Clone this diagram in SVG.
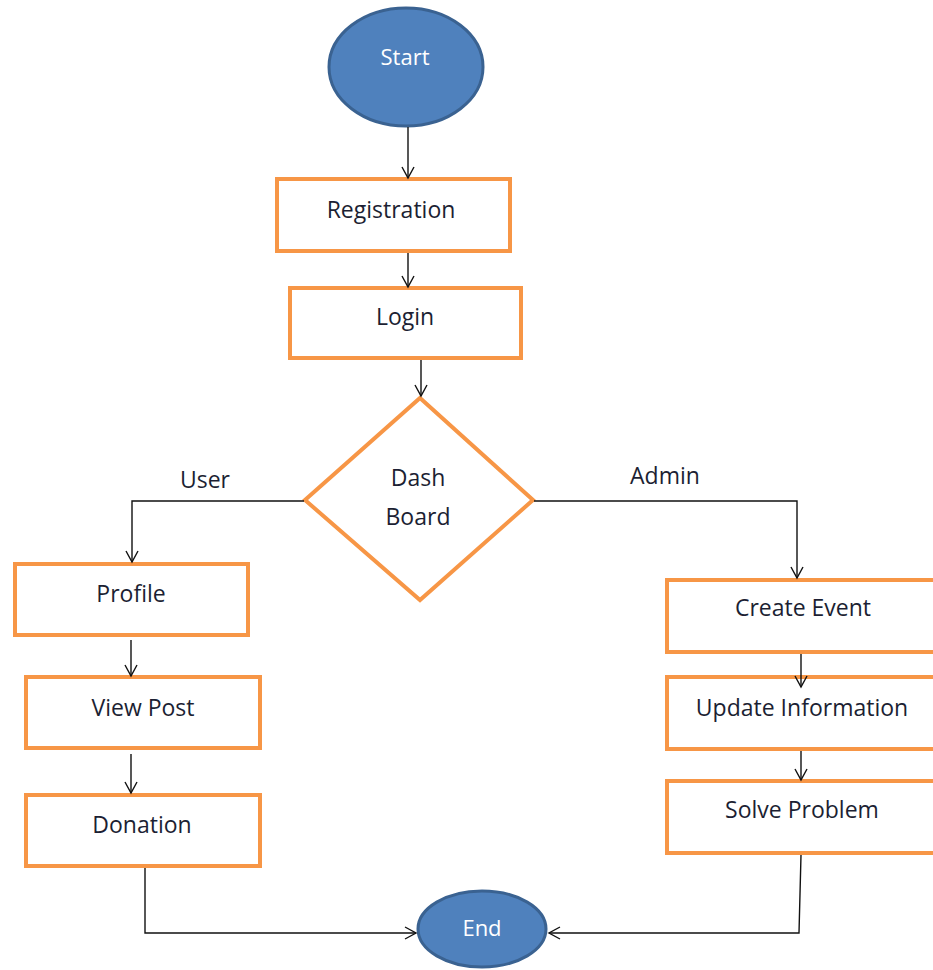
<svg xmlns="http://www.w3.org/2000/svg" width="933" height="970" viewBox="0 0 933 970">
<style>
.box{fill:#fff;stroke:#f79646;stroke-width:4}
.term{fill:#4f81bd;stroke:#3a6291;stroke-width:3}
.lbl{font-family:"Open Sans","Liberation Sans",sans-serif;font-size:23px;fill:#1c1f33;text-anchor:middle}
.wl{font-family:"Open Sans","Liberation Sans",sans-serif;font-size:22px;fill:#fff;text-anchor:middle}
.ln{fill:none;stroke:#111;stroke-width:1.4}
</style>
<defs>
<marker id="ah" markerWidth="14" markerHeight="14" refX="12" refY="7" orient="auto" markerUnits="userSpaceOnUse">
<path d="M1,1 L12,7 L1,13" fill="none" stroke="#111" stroke-width="1.4"/>
</marker>
</defs>
<g id="start">
<ellipse class="term" cx="406" cy="67" rx="77" ry="59"/>
<text class="wl" x="405" y="65">Start</text>
</g>
<g id="registration">
<rect class="box" x="277" y="179" width="233" height="72"/>
<text class="lbl" x="391" y="218">Registration</text>
</g>
<g id="login">
<rect class="box" x="290" y="288" width="231" height="70"/>
<text class="lbl" x="405" y="325">Login</text>
</g>
<g id="dashboard">
<polygon class="box" points="420,398 533,500 420,600 305,500"/>
<text class="lbl" x="418" y="486">Dash</text>
<text class="lbl" x="418" y="525">Board</text>
</g>
<g id="profile">
<rect class="box" x="15" y="564" width="233" height="71"/>
<text class="lbl" x="131" y="602">Profile</text>
</g>
<g id="viewpost">
<rect class="box" x="26" y="677" width="234" height="71"/>
<text class="lbl" x="143" y="716">View Post</text>
</g>
<g id="donation">
<rect class="box" x="26" y="795" width="234" height="71"/>
<text class="lbl" x="142" y="833">Donation</text>
</g>
<g id="createevent">
<rect class="box" x="667" y="580" width="272" height="72"/>
<text class="lbl" x="803" y="616">Create Event</text>
</g>
<g id="updateinformation">
<rect class="box" x="667" y="677" width="272" height="72"/>
<text class="lbl" x="802" y="716">Update Information</text>
</g>
<g id="solveproblem">
<rect class="box" x="667" y="781" width="272" height="72"/>
<text class="lbl" x="802" y="818">Solve Problem</text>
</g>
<g id="end">
<ellipse class="term" cx="482" cy="929" rx="64" ry="38"/>
<text class="wl" x="482" y="936">End</text>
</g>
<g id="connectors">
<line class="ln" x1="408" y1="127" x2="408" y2="178" marker-end="url(#ah)"/>
<line class="ln" x1="408" y1="253" x2="408" y2="287" marker-end="url(#ah)"/>
<line class="ln" x1="421" y1="360" x2="421" y2="396" marker-end="url(#ah)"/>
<polyline class="ln" points="304,501 132,501 132,562" marker-end="url(#ah)"/>
<polyline class="ln" points="534,501 797,501 797,578" marker-end="url(#ah)"/>
<line class="ln" x1="131" y1="640" x2="131" y2="676" marker-end="url(#ah)"/>
<line class="ln" x1="131" y1="754" x2="131" y2="793" marker-end="url(#ah)"/>
<line class="ln" x1="801" y1="654" x2="801" y2="687" marker-end="url(#ah)"/>
<line class="ln" x1="801" y1="751" x2="801" y2="780" marker-end="url(#ah)"/>
<polyline class="ln" points="145,868 145,933 416,933" marker-end="url(#ah)"/>
<polyline class="ln" points="801,855 799,933 549,933" marker-end="url(#ah)"/>
<text class="lbl" x="205" y="488">User</text>
<text class="lbl" x="665" y="484">Admin</text>
</g>
</svg>
